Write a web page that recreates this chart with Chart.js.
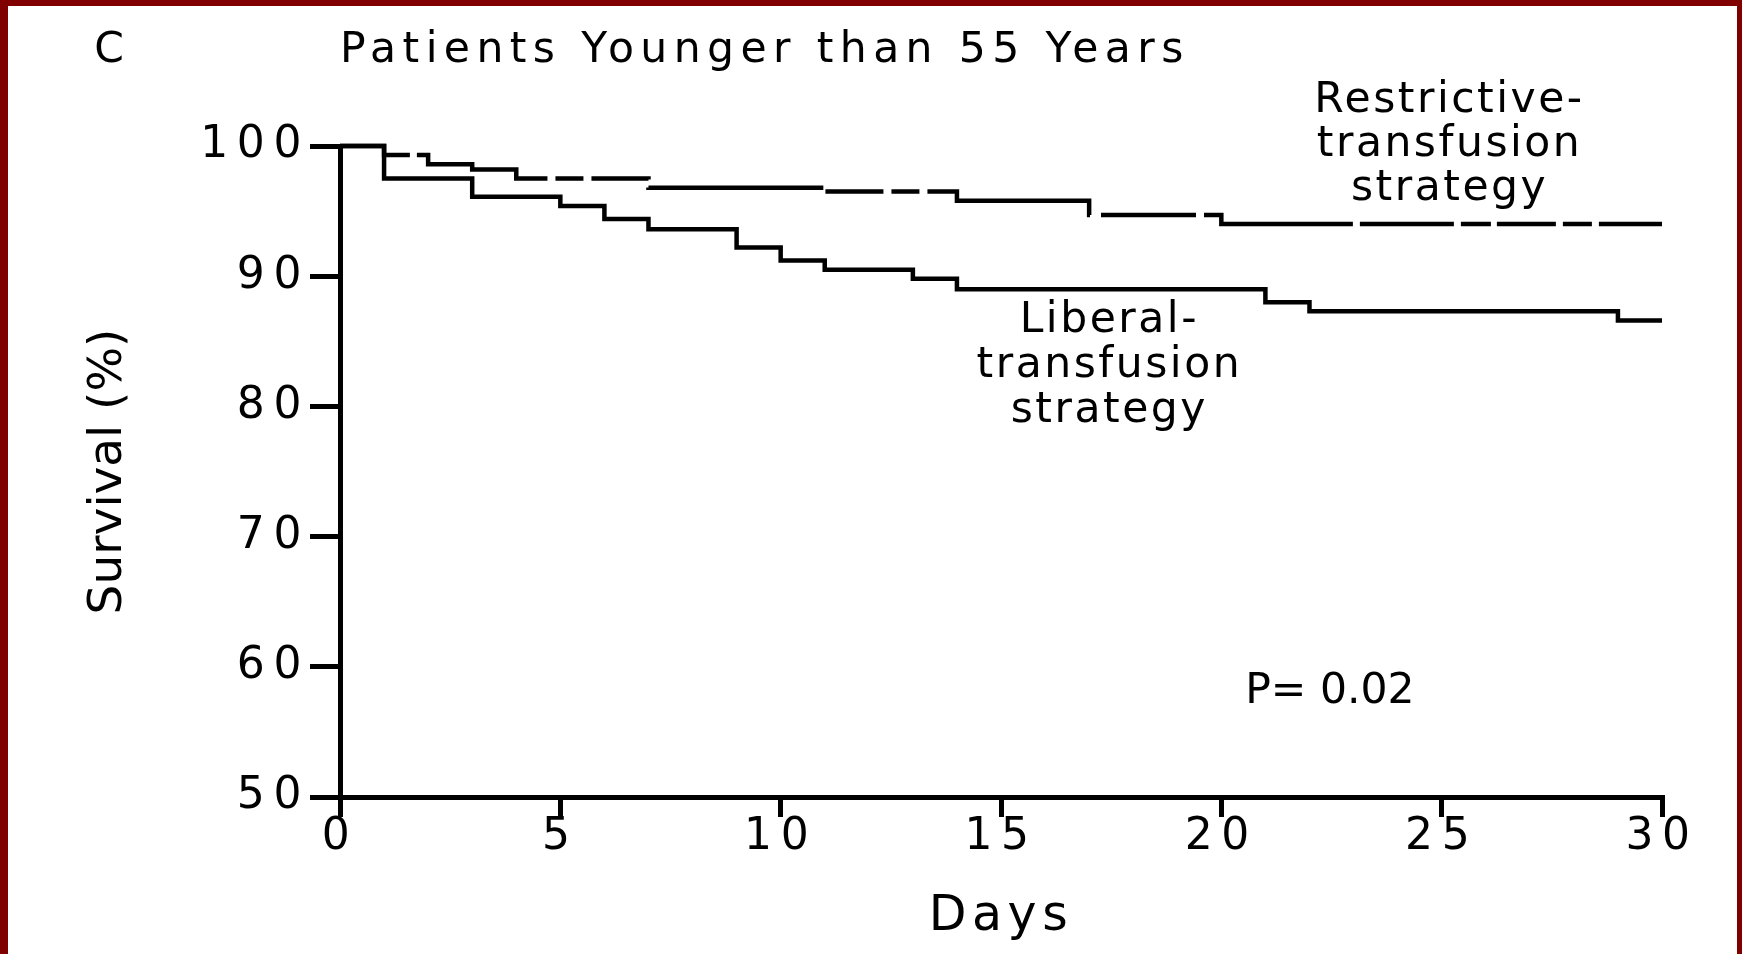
<!DOCTYPE html>
<html>
<head>
<meta charset="utf-8">
<title>Patients Younger than 55 Years</title>
<script src="https://cdn.jsdelivr.net/npm/chart.js@4.4.1/dist/chart.umd.min.js"></script>
<style>
    html, body { margin: 0; padding: 0; width: 1742px; height: 954px; overflow: hidden; background: #800000; }
    #frame { position: absolute; left: 8px; top: 6px; width: 1729px; height: 948px; background: #fff; }
    canvas { display: block; }
</style>
</head>
<body>
<div id="frame"><canvas id="survivalChart" width="1729" height="948"></canvas></div>
<script>
// Kaplan-Meier steps (day of drop, survival % after the drop)
const liberalDays = [0, 1, 3, 5, 6, 7, 9, 10, 11, 13, 14, 21, 22, 29, 30];
const liberalSurvival = [100, 97.5, 96.1, 95.4, 94.4, 93.6, 92.2, 91.2, 90.5, 89.8, 89.0, 88.0, 87.3, 86.6, 86.6];
const restrictiveDays = [0, 1, 2, 3, 4, 7, 11, 14, 17, 20, 30];
const restrictiveSurvival = [100, 99.3, 98.6, 98.2, 97.5, 96.8, 96.5, 95.8, 94.7, 94.0, 94.0];

const dayTicks = [0, 5, 10, 15, 20, 25, 30];
const survivalTicks = [50, 60, 70, 80, 90, 100];

const panelLetter = 'C';
const chartTitle = 'Patients Younger than 55 Years';
const xTitle = 'Days';
const yTitle = 'Survival (%)';
const restrictiveLabel = ['Restrictive-', 'transfusion', 'strategy'];
const liberalLabel = ['Liberal-', 'transfusion', 'strategy'];
const pValueText = 'P= 0.02';

const FONT = "'DejaVu Sans', 'Liberation Sans', Arial, sans-serif";
// uneven dashes of the restrictive curve, as in the scan
const restrictiveDash = [79, 7, 154, 8, 28, 8, 58, 8, 175, 6, 58, 8, 28, 8, 186, 11, 95, 8, 158, 7, 94, 7, 30, 6, 59, 7, 29, 7, 70, 7];

function toPoints(xs, ys) {
    return xs.map((d, i) => ({ x: d, y: ys[i] }));
}

// the scanned lettering is wide, so give each text block its own letter spacing
function withSpacing(target, method, spacing) {
    if (!target || target['_spaced_' + method]) return;
    const original = target[method];
    target[method] = function () {
        const ctx = this.ctx;
        const before = ctx.letterSpacing;
        ctx.letterSpacing = spacing;
        original.apply(this, arguments);
        ctx.letterSpacing = before || '0px';
    };
    target['_spaced_' + method] = true;
}

const spacingPlugin = {
    id: 'spacing',
    beforeDraw(chart) {
        withSpacing(chart.scales.x, 'drawLabels', '8.6px');
        withSpacing(chart.scales.y, 'drawLabels', '8.6px');
        withSpacing(chart.scales.x, 'drawTitle', '5.6px');
        withSpacing(chart.titleBlock, 'draw', '6.4px');
    }
};

function drawBlock(ctx, lines, cx, baseline, gap, spacing) {
    ctx.letterSpacing = spacing;
    const shift = parseFloat(spacing) / 2;
    lines.forEach((line, i) => {
        ctx.fillText(line, cx + shift, baseline + i * gap);
    });
}

const annotationPlugin = {
    id: 'annotations',
    afterDraw(chart) {
        const ctx = chart.ctx;
        const x = chart.scales.x;
        const y = chart.scales.y;
        ctx.save();
        ctx.fillStyle = '#000';
        ctx.textBaseline = 'alphabetic';

        ctx.font = '42.5px ' + FONT;
        ctx.textAlign = 'center';
        ctx.letterSpacing = '0px';
        ctx.fillText(panelLetter, 101, 56);

        drawBlock(ctx, restrictiveLabel, x.getPixelForValue(25.15), y.getPixelForValue(102.6), 44, '2.5px');
        drawBlock(ctx, liberalLabel, x.getPixelForValue(17.43), y.getPixelForValue(85.7), 45, '2.5px');

        ctx.textAlign = 'left';
        ctx.letterSpacing = '0px';
        ctx.fillText(pValueText, x.getPixelForValue(20.54), y.getPixelForValue(57.2));
        ctx.restore();
    }
};

const ctx = document.getElementById('survivalChart').getContext('2d');
const survivalChart = new Chart(ctx, {
    type: 'line',
    data: {
        datasets: [
            {
                label: 'Liberal-transfusion strategy',
                data: toPoints(liberalDays, liberalSurvival),
                borderColor: '#000',
                borderWidth: 4.5,
                stepped: 'before',
                pointRadius: 0,
                fill: false,
                clip: false
            },
            {
                label: 'Restrictive-transfusion strategy',
                data: toPoints(restrictiveDays, restrictiveSurvival),
                borderColor: '#000',
                borderWidth: 4.5,
                borderDash: restrictiveDash,
                stepped: 'before',
                pointRadius: 0,
                fill: false,
                clip: false
            }
        ]
    },
    options: {
        responsive: false,
        animation: false,
        events: [],
        layout: { padding: { left: 0, right: 75, top: 0, bottom: 0 } },
        plugins: {
            legend: { display: false },
            tooltip: { enabled: false },
            title: {
                display: true,
                text: chartTitle,
                align: 'start',
                fullSize: false,
                color: '#000',
                font: { family: FONT, size: 42.5, weight: 'normal' },
                padding: { top: 19, bottom: 70 }
            }
        },
        scales: {
            x: {
                type: 'linear',
                min: 0,
                max: 30,
                afterBuildTicks: (scale) => { scale.ticks = dayTicks.map(v => ({ value: v })); },
                afterFit: (scale) => { scale.height = 157; },
                border: { display: true, color: '#000', width: 5 },
                grid: { drawOnChartArea: false, drawTicks: true, tickLength: 20, tickWidth: 5, tickColor: '#000', color: '#000', lineWidth: 5 },
                ticks: { color: '#000', font: { family: FONT, size: 44 }, padding: -6, maxRotation: 0, autoSkip: false },
                title: { display: true, text: xTitle, color: '#000', font: { family: FONT, size: 49 }, padding: { top: 0, bottom: 7.6 } }
            },
            y: {
                type: 'linear',
                min: 50,
                max: 100,
                afterBuildTicks: (scale) => { scale.ticks = survivalTicks.map(v => ({ value: v })); },
                afterFit: (scale) => { scale.width = 332; },
                border: { display: true, color: '#000', width: 5 },
                grid: { drawOnChartArea: false, drawTicks: true, tickLength: 30, tickWidth: 5, tickColor: '#000', color: '#000', lineWidth: 5 },
                ticks: { color: '#000', font: { family: FONT, size: 44 }, padding: 0, autoSkip: false },
                title: { display: true, text: yTitle, color: '#000', font: { family: FONT, size: 47 }, padding: { top: 73, bottom: 0 } }
            }
        }
    },
    plugins: [spacingPlugin, annotationPlugin]
});
</script>
</body>
</html>
